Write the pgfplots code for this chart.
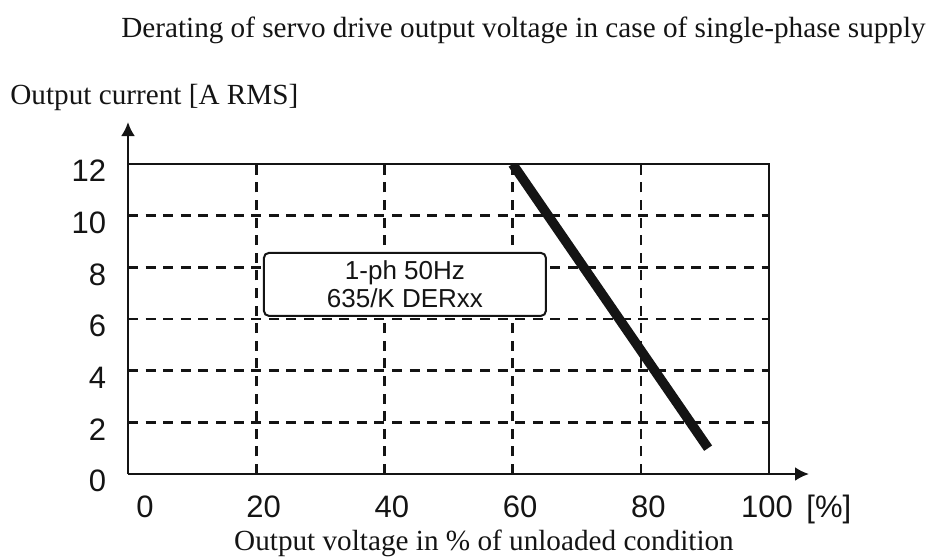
\documentclass[border=0pt]{standalone}
\usepackage{pgfplots}
\pgfplotsset{compat=1.18}
\usepackage{fontspec}
\setmainfont{Liberation Serif}
\newfontfamily\arial{Liberation Sans}
\usetikzlibrary{arrows.meta}
\definecolor{ink}{HTML}{141414}
\newcommand{\shiftlab}[2]{\makebox[0pt][c]{\hspace*{#1}#2}}
\begin{document}
\begin{tikzpicture}
\useasboundingbox (-64pt,-42.5pt) rectangle (400.5pt,237pt);
\begin{axis}[
 at={(0,0)}, anchor=south west,
 scale only axis, width=320.5pt, height=155pt,
 xmin=0,xmax=100,ymin=0,ymax=12,
 axis line style={draw=none},
 xtick={0,20,40,60,80,100}, ytick={0,2,...,12},
 xticklabels={\shiftlab{17pt}{0},\shiftlab{7.5pt}{20},\shiftlab{7.5pt}{40},\shiftlab{7.5pt}{60},\shiftlab{7.5pt}{80},\shiftlab{-2pt}{100}},
 major tick length=0pt,
 extra x ticks={20,40,60,80}, extra x tick labels={},
 extra y ticks={2,4,6,8,10}, extra y tick labels={},
 extra tick style={grid=major, major tick length=0pt},
 grid style={ink, line width=1.3pt, dash pattern=on 5pt off 3.8pt},
 /pgf/number format/assume math mode=true,
 ticklabel style={font=\arial\fontsize{15.5}{18}\selectfont, inner sep=0pt, text=ink},
 xticklabel style={anchor=base, yshift=-21.5pt},
 yticklabel style={anchor=east, xshift=-10.75pt, yshift=-3.5pt},
]
\addplot[ink, line width=4.8pt] coordinates {(60,12) (90.5,1)};
\node[draw=ink, line width=1pt, rounded corners=2.5pt, fill=white, minimum width=141pt, minimum height=31.5pt, align=center, font=\arial\fontsize{13}{14}\selectfont, inner sep=0pt, text=ink] at (axis cs:43.2,7.34) {1-ph 50Hz\\635/K DERxx};
\end{axis}
\draw[ink, line width=0.6pt] (0,155pt) -- (320.5pt,155pt) -- (320.5pt,0);
\draw[ink, line width=1.3pt, -{Latex[length=7pt,width=7pt]}] (0,0) -- (340.5pt,0);
\draw[ink, line width=1.3pt, -{Latex[length=7pt,width=7pt]}] (0,0) -- (0,176pt);
\node[font=\fontsize{14.6}{17}\selectfont, text=ink] at (197.75pt,222pt) {Derating of servo drive output voltage in case of single-phase supply};
\node[anchor=west, inner sep=0pt, font=\fontsize{14.6}{17}\selectfont, text=ink] at (-59pt,188.5pt) {Output current [A RMS]};
\node[font=\fontsize{14.6}{17}\selectfont, text=ink] at (178pt,-34.5pt) {Output voltage in \% of unloaded condition};
\node[anchor=base west, inner sep=0pt, font=\arial\fontsize{15.5}{18}\selectfont, text=ink] at (339pt,-21.5pt) {[\%]};
\end{tikzpicture}
\end{document}
